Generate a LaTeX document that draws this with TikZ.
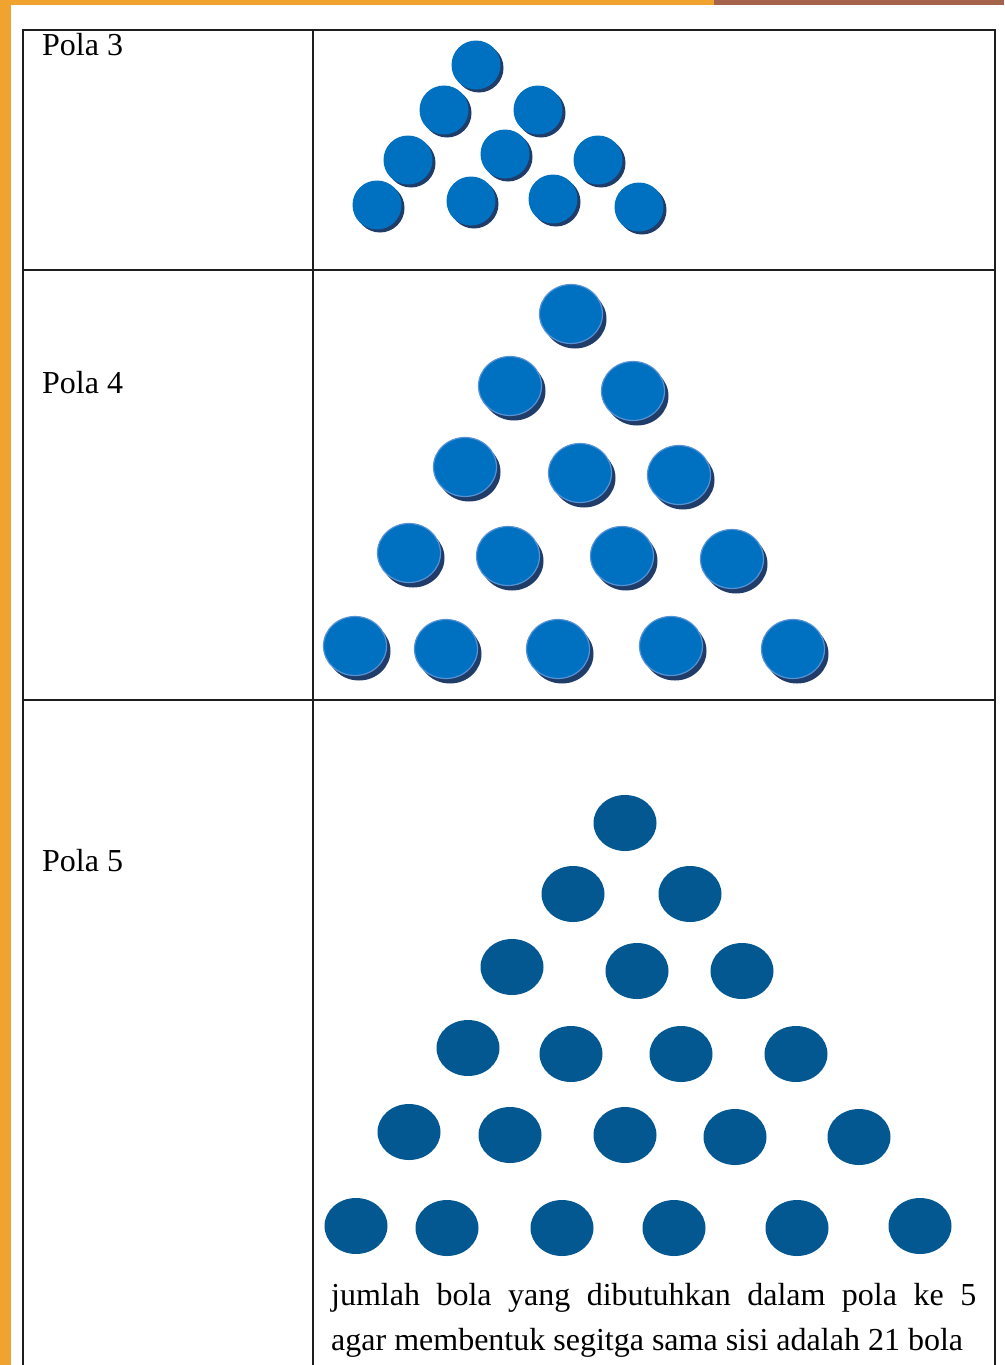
\documentclass[tikz,border=0pt]{standalone}
\usepackage{fontspec}
\setmainfont{Liberation Serif}
\usetikzlibrary{shapes.geometric,shadows}
\definecolor{barorange}{RGB}{241,163,48}
\definecolor{barbrown}{RGB}{166,99,76}
\definecolor{ballblue}{RGB}{0,112,192}
\definecolor{ballrim}{RGB}{86,146,214}
\definecolor{ballshadow}{RGB}{32,60,104}
\definecolor{ballflat}{RGB}{3,88,146}
\definecolor{gridline}{RGB}{30,30,30}
\tikzset{
  lbl/.style={font=\fontsize{32}{38}\selectfont, inner sep=0pt, anchor=base west, text=black},
  gridstroke/.style={draw=gridline, line width=2pt},
  ballthree/.style={ellipse, minimum width=49pt, minimum height=49pt, inner sep=0pt,
    fill=ballblue,
    drop shadow={shadow xshift=3pt, shadow yshift=-3pt, fill=ballshadow, opacity=1}},
  ballfour/.style={ellipse, minimum width=63pt, minimum height=59pt, inner sep=0pt,
    fill=ballblue, draw=ballrim, line width=1.2pt,
    drop shadow={shadow xshift=4pt, shadow yshift=-5pt, fill=ballshadow, opacity=1}},
  ballfive/.style={ellipse, minimum width=63pt, minimum height=56pt, inner sep=0pt,
    fill=ballflat}
}
\begin{document}
\begin{tikzpicture}[x=1pt,y=-1pt]
\useasboundingbox (0,0) rectangle (1004,1365);
\fill[white] (0,0) rectangle (1004,1365);
% frame bars
\fill[barorange] (0,0) rectangle (11,1365);
\fill[barorange] (0,0) rectangle (714,5);
\fill[barbrown] (714,0) rectangle (1004,5);
% table grid
\coordinate (tl) at (23,30);
\coordinate (tr) at (995,30);
\coordinate (bl) at (23,1366);
\coordinate (br) at (995,1366);
\coordinate (ct) at (313,30);
\coordinate (cb) at (313,1366);
\coordinate (r1l) at (23,270);
\coordinate (r1r) at (995,270);
\coordinate (r2l) at (23,700);
\coordinate (r2r) at (995,700);
\draw[gridstroke] (bl) -- (tl) -- (tr) -- (br);
\draw[gridstroke] (ct) -- (cb);
\draw[gridstroke] (r1l) -- (r1r);
\draw[gridstroke] (r2l) -- (r2r);
% labels
\node[lbl] (p3) at (42,55) {Pola 3};
\node[lbl] (p4) at (42,393) {Pola 4};
\node[lbl] (p5) at (42,871) {Pola 5};
% Pola 3 balls
\node[ballthree] (a1) at (476,65) {};
\node[ballthree] (a2) at (444,110) {};
\node[ballthree] (a3) at (538,110) {};
\node[ballthree] (a4) at (408,160) {};
\node[ballthree] (a5) at (505,154) {};
\node[ballthree] (a6) at (598,160) {};
\node[ballthree] (a7) at (377,205) {};
\node[ballthree] (a8) at (471,201) {};
\node[ballthree] (a9) at (553,199) {};
\node[ballthree] (a10) at (639,207) {};
% Pola 4 balls
\node[ballfour] (b1) at (571,314) {};
\node[ballfour] (b2) at (510,386) {};
\node[ballfour] (b3) at (633,391) {};
\node[ballfour] (b4) at (465,467) {};
\node[ballfour] (b5) at (580,473) {};
\node[ballfour] (b6) at (679,475) {};
\node[ballfour] (b7) at (409,553) {};
\node[ballfour] (b8) at (508,556) {};
\node[ballfour] (b9) at (622,556) {};
\node[ballfour] (b10) at (732,559) {};
\node[ballfour] (b11) at (355,646) {};
\node[ballfour] (b12) at (446,649) {};
\node[ballfour] (b13) at (558,649) {};
\node[ballfour] (b14) at (671,646) {};
\node[ballfour] (b15) at (793,649) {};
% Pola 5 balls
\node[ballfive] (c1) at (625,823) {};
\node[ballfive] (c2) at (573,894) {};
\node[ballfive] (c3) at (690,894) {};
\node[ballfive] (c4) at (512,967) {};
\node[ballfive] (c5) at (637,971) {};
\node[ballfive] (c6) at (742,971) {};
\node[ballfive] (c7) at (468,1048) {};
\node[ballfive] (c8) at (571,1054) {};
\node[ballfive] (c9) at (681,1054) {};
\node[ballfive] (c10) at (796,1054) {};
\node[ballfive] (c11) at (409,1132) {};
\node[ballfive] (c12) at (510,1135) {};
\node[ballfive] (c13) at (625,1135) {};
\node[ballfive] (c14) at (735,1137) {};
\node[ballfive] (c15) at (859,1137) {};
\node[ballfive] (c16) at (356,1226) {};
\node[ballfive] (c17) at (447,1228) {};
\node[ballfive] (c18) at (562,1228) {};
\node[ballfive] (c19) at (674,1228) {};
\node[ballfive] (c20) at (797,1228) {};
\node[ballfive] (c21) at (920,1226) {};
% text
\node[lbl] (t1) at (331,1305) {\makebox[645pt][s]{jumlah bola yang dibutuhkan dalam pola ke 5}};
\node[lbl] (t2) at (331,1350) {agar membentuk segitga sama sisi adalah 21 bola};
\end{tikzpicture}
\end{document}
